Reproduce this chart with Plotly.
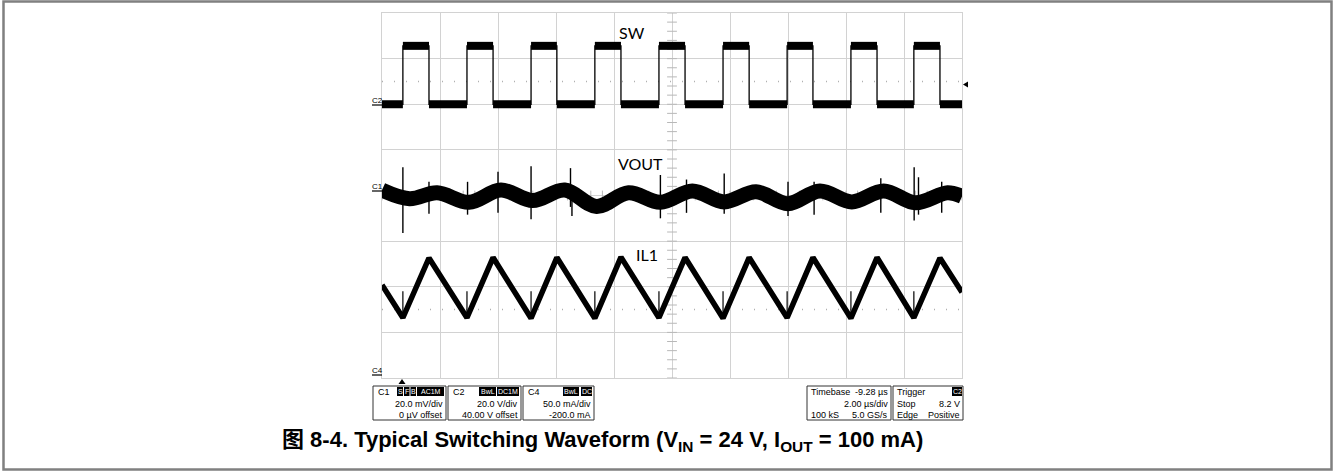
import numpy as np
import plotly.graph_objects as go

# ---------------- data (time in us, amplitude in screen divisions) ----------------
sw_rise = [0.72, 2.93, 5.14, 7.34, 9.55, 11.76, 13.97, 16.17, 18.34]
sw_fall = [1.62, 3.83, 6.03, 8.24, 10.45, 12.66, 14.86, 17.07, 19.24]
sw_low, sw_high = 6.0, 7.28

il_t = [0.0, 0.72, 1.62, 2.93, 3.83, 5.14, 6.03, 7.34, 8.24, 9.55, 10.45,
        11.76, 12.66, 13.97, 14.86, 16.17, 17.07, 18.34, 19.24, 20.0]
il_v = [2.04, 1.32, 2.63, 1.32, 2.64, 1.31, 2.64, 1.31, 2.65, 1.32, 2.64,
        1.31, 2.64, 1.32, 2.64, 1.31, 2.64, 1.32, 2.63, 1.88]
il_spike_top = 1.90

vout_t = [0.0, 0.95, 1.9, 3.0, 4.1, 5.2, 6.3, 7.4, 8.5, 9.6, 10.7, 11.8,
          12.9, 14.0, 15.1, 16.2, 17.3, 18.4, 19.5, 20.0]
vout_v = [4.12, 3.93, 4.06, 3.85, 4.12, 3.89, 4.12, 3.76, 4.06, 3.85, 4.10,
          3.86, 4.08, 3.82, 4.10, 3.86, 4.10, 3.84, 4.06, 3.98]
vout_spike_t = [0.72, 1.62, 2.95, 4.0, 5.14, 6.5, 6.55, 9.6, 10.5, 11.8, 14.0, 14.9, 17.2, 18.35, 18.5, 19.3]
vout_spike_hi = [4.62, 4.30, 4.30, 4.52, 4.64, 4.60, 4.20, 4.45, 4.35, 4.48, 4.30, 4.30, 4.38, 4.62, 4.40, 4.30]
vout_spike_lo = [3.18, 3.60, 3.58, 3.62, 3.48, 3.75, 3.55, 3.50, 3.62, 3.60, 3.55, 3.58, 3.62, 3.45, 3.58, 3.62]

trig_levels = [6.5, 1.5]

# ---------------- geometry helpers ----------------
W, H = 1335, 471
L, R, T, B = 382, 962, 13, 378
def px(x):
    return (x - L) / (R - L)
def py(y):
    return (B - y) / (B - T)

fig = go.Figure()

# centre graticule ticks
tick_y = np.arange(0, 8.001, 0.2)
tick_x = np.arange(0, 20.001, 0.4)
fig.add_trace(go.Scatter(x=[10] * len(tick_y), y=tick_y, mode="markers",
                         marker=dict(symbol="line-ew", size=7, line=dict(width=1, color="#b8b8b8")),
                         hoverinfo="skip", showlegend=False))
fig.add_trace(go.Scatter(x=tick_x, y=[4] * len(tick_x), mode="markers",
                         marker=dict(symbol="line-ns", size=7, line=dict(width=1, color="#b8b8b8")),
                         hoverinfo="skip", showlegend=False))

# SW thin outline
sx, sy = [0.0], [sw_low]
for r, f in zip(sw_rise, sw_fall):
    sx += [r, r, f, f]
    sy += [sw_low, sw_high, sw_high, sw_low]
sx.append(20.0); sy.append(sw_low)
fig.add_trace(go.Scatter(x=sx, y=sy, mode="lines", line=dict(color="black", width=1.3),
                         hoverinfo="skip", showlegend=False))
# SW noisy flat bands
bx, by = [], []
starts = [0.0] + sw_fall
ends = sw_rise + [20.0]
for a, b in zip(starts, ends):
    bx += [a, b, None]; by += [sw_low, sw_low, None]
for a, b in zip(sw_rise, sw_fall):
    bx += [a, b, None]; by += [sw_high, sw_high, None]
fig.add_trace(go.Scatter(x=bx, y=by, mode="lines", line=dict(color="black", width=8),
                         hoverinfo="skip", showlegend=False))

# VOUT band
fig.add_trace(go.Scatter(x=vout_t, y=vout_v, mode="lines", line=dict(color="black", width=15, shape="spline"),
                         hoverinfo="skip", showlegend=False))
vx, vy = [], []
for t, hi, lo in zip(vout_spike_t, vout_spike_hi, vout_spike_lo):
    vx += [t, t, None]; vy += [lo, hi, None]
fig.add_trace(go.Scatter(x=vx, y=vy, mode="lines", line=dict(color="black", width=1.4),
                         hoverinfo="skip", showlegend=False))

# IL1
fig.add_trace(go.Scatter(x=il_t, y=il_v, mode="lines", line=dict(color="black", width=5.5),
                         hoverinfo="skip", showlegend=False))
ix, iy = [], []
for t, v in zip(il_t, il_v):
    if t in sw_rise:
        ix += [t, t, None]; iy += [v, il_spike_top, None]
fig.add_trace(go.Scatter(x=ix, y=iy, mode="lines", line=dict(color="black", width=1.2),
                         hoverinfo="skip", showlegend=False))

shapes = []
for lv in trig_levels:
    shapes.append(dict(type="line", xref="paper", yref="y", x0=0, x1=1, y0=lv, y1=lv,
                       line=dict(color="#b0b0b0", width=1.5, dash="1px,11px"), layer="below"))
# outer frame
shapes.append(dict(type="rect", xref="paper", yref="paper", x0=px(3.5), x1=px(1331.5), y0=py(469.5), y1=py(1.5),
                   line=dict(color="#808080", width=2.5)))

ann = []
def text(x, y, s, size=9, anchor="left", color="black", family="Liberation Sans, Arial", **kw):
    ann.append(dict(x=px(x), y=py(y), xref="paper", yref="paper", text=s, showarrow=False,
                    xanchor=anchor, yanchor="middle", font=dict(size=size, color=color, family=family), **kw))

def badge(x0, x1, y, s):
    shapes.append(dict(type="rect", xref="paper", yref="paper", x0=px(x0), x1=px(x1), y0=py(y + 4.5), y1=py(y - 4.5),
                       fillcolor="black", line=dict(width=0)))
    text((x0 + x1) / 2, y, s, size=7, anchor="center", color="white")

def box(x0, x1, y0, y1):
    shapes.append(dict(type="rect", xref="paper", yref="paper", x0=px(x0), x1=px(x1), y0=py(y1), y1=py(y0),
                       line=dict(color="#333333", width=1)))

# trace labels
text(632, 32, "SW", size=16, anchor="center", family="Lato, Open Sans")
text(640, 163, "VOUT", size=16, anchor="center", family="Lato, Open Sans")
text(647, 255, "IL1", size=16, anchor="center", family="Lato, Open Sans")

# channel ground markers
for lab, yy in [("C2", 100), ("C1", 186), ("C4", 370)]:
    text(377, yy, lab, size=8, anchor="center")
    shapes.append(dict(type="line", xref="paper", yref="paper", x0=px(372), x1=px(382), y0=py(yy + 5), y1=py(yy + 5),
                       line=dict(color="black", width=1.2)))
# trigger markers
shapes.append(dict(type="path", xref="paper", yref="paper",
                   path=f"M {px(963)} {py(84.5)} L {px(968)} {py(81.5)} L {px(968)} {py(87.5)} Z",
                   fillcolor="black", line=dict(width=0)))
shapes.append(dict(type="path", xref="paper", yref="paper",
                   path=f"M {px(402)} {py(379)} L {px(398.5)} {py(384)} L {px(405.5)} {py(384)} Z",
                   fillcolor="black", line=dict(width=0)))

# info boxes
r1, r2, r3 = 391.5, 404, 415
for (x0, x1) in [(373, 446), (448, 521), (523, 594), (807, 891), (893, 963)]:
    box(x0, x1, 386, 420)
text(376, r1, "C1"); badge(397, 403, r1, "S"); badge(404, 409.5, r1, "F"); badge(410.5, 416, r1, "B"); badge(417, 444, r1, "AC1M")
text(445, r2, "20.0 mV/div", anchor="right"); text(445, r3, "0 µV offset", anchor="right")
text(451, r1, "C2"); badge(479, 496, r1, "BwL"); badge(497, 519, r1, "DC1M")
text(520, r2, "20.0 V/div", anchor="right"); text(520, r3, "40.00 V offset", anchor="right")
text(526, r1, "C4"); badge(563, 579, r1, "BwL"); badge(581, 592, r1, "DC")
text(593, r2, "50.0 mA/div", anchor="right"); text(593, r3, "-200.0 mA", anchor="right")
text(809, r1, "Timebase"); text(890, r1, "-9.28 µs", anchor="right")
text(890, r2, "2.00 µs/div", anchor="right")
text(809, r3, "100 kS"); text(890, r3, "5.0 GS/s", anchor="right")
text(895, r1, "Trigger"); badge(952, 962, r1, "C2")
text(895, r2, "Stop"); text(962, r2, "8.2 V", anchor="right")
text(895, r3, "Edge"); text(962, r3, "Positive", anchor="right")

# caption
text(602, 441, "<b>图 8-4. Typical Switching Waveform (V<sub>IN</sub> = 24 V, I<sub>OUT</sub> = 100 mA)</b>",
     size=22, anchor="center", family="Liberation Sans, Arial, Noto Sans CJK SC")

grid = "#d2d2d2"
fig.update_layout(
    width=W, height=H, autosize=False,
    margin=dict(l=L, r=W - R, t=T, b=H - B, pad=0),
    paper_bgcolor="white", plot_bgcolor="white",
    xaxis=dict(range=[0, 20], dtick=2, showgrid=True, gridcolor=grid, gridwidth=1, zeroline=False,
               showticklabels=False, ticks="", showline=True, mirror=True, linecolor=grid, fixedrange=True),
    yaxis=dict(range=[0, 8], dtick=1, showgrid=True, gridcolor=grid, gridwidth=1, zeroline=False,
               showticklabels=False, ticks="", showline=True, mirror=True, linecolor=grid, fixedrange=True),
    shapes=shapes, annotations=ann, showlegend=False,
)
fig.write_html("out.html", config={"displayModeBar": False},
               post_script="document.body.style.margin='0px';")
